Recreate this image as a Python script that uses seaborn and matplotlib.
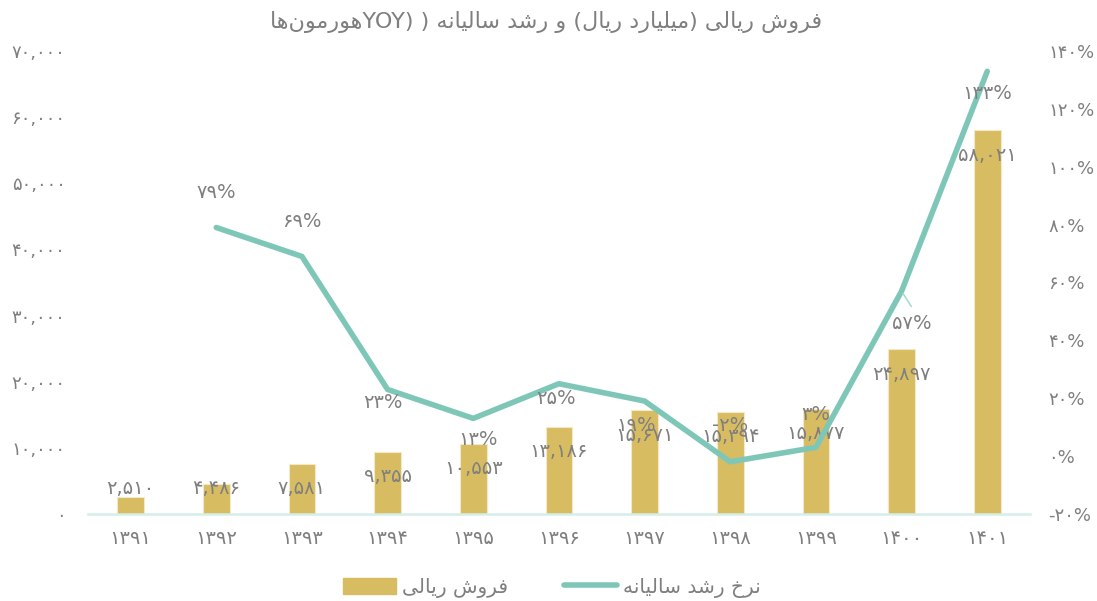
import re
import numpy as np
import pandas as pd
import seaborn as sns
import matplotlib.pyplot as plt

# chart data
years = ["1391", "1392", "1393", "1394", "1395", "1396", "1397", "1398", "1399", "1400", "1401"]
sales = [2510, 4486, 7581, 9355, 10553, 13186, 15671, 15394, 15877, 24897, 58021]
growth = [np.nan, 79, 69, 23, 13, 25, 19, -2, 3, 57, 133]

title_text = "فروش ریالی (میلیارد ریال) و رشد سالیانه ( (YOYهورمون\u200cها"
sales_name = "فروش ریالی"
growth_name = "نرخ رشد سالیانه"

# matplotlib has no arabic shaping / bidi, so do it by hand
FORMS = {
    "\u0627": ("\ufe8d", "\ufe8e", None, None),
    "\u062e": ("\ufea5", "\ufea6", "\ufea7", "\ufea8"),
    "\u062f": ("\ufea9", "\ufeaa", None, None),
    "\u0631": ("\ufead", "\ufeae", None, None),
    "\u0633": ("\ufeb1", "\ufeb2", "\ufeb3", "\ufeb4"),
    "\u0634": ("\ufeb5", "\ufeb6", "\ufeb7", "\ufeb8"),
    "\u0641": ("\ufed1", "\ufed2", "\ufed3", "\ufed4"),
    "\u0644": ("\ufedd", "\ufede", "\ufedf", "\ufee0"),
    "\u0645": ("\ufee1", "\ufee2", "\ufee3", "\ufee4"),
    "\u0646": ("\ufee5", "\ufee6", "\ufee7", "\ufee8"),
    "\u0647": ("\ufee9", "\ufeea", "\ufeeb", "\ufeec"),
    "\u0648": ("\ufeed", "\ufeee", None, None),
    "\u06cc": ("\ufbfc", "\ufbfd", "\ufbfe", "\ufbff"),
}


def shape(s):
    s = s.replace("\u064a", "\u06cc")
    out = []
    for i, ch in enumerate(s):
        f = FORMS.get(ch)
        if f is None:
            out.append(ch)
            continue
        prev = s[i - 1] if i > 0 else ""
        nxt = s[i + 1] if i < len(s) - 1 else ""
        jp = prev in FORMS and FORMS[prev][2] is not None
        jn = f[2] is not None and nxt in FORMS
        if jp and jn:
            out.append(f[3])
        elif jp:
            out.append(f[1])
        elif jn:
            out.append(f[2])
        else:
            out.append(f[0])
    return "".join(c for c in out if c != "\u200c")


MIRROR = str.maketrans("()", ")(")


def rtl(s):
    runs = re.findall(r"[A-Za-z0-9]+|[^A-Za-z0-9]+", shape(s))
    return "".join(r if re.match(r"[A-Za-z0-9]", r) else r[::-1].translate(MIRROR)
                   for r in reversed(runs))


FA = str.maketrans("0123456789", "۰۱۲۳۴۵۶۷۸۹")


def fa(x):
    return str(x).translate(FA)


df = pd.DataFrame({"year": [fa(y) for y in years], "sales": sales, "growth": growth})
df["pos"] = np.arange(len(df))

GOLD = "#D8BC62"
TEAL = "#7EC7B8"
GRAY = "#7F7F7F"

sns.set_style("white")
plt.rcParams["font.family"] = ["DejaVu Sans"]

fig = plt.figure(figsize=(10.97, 6.01), dpi=100)
ax = fig.add_axes([0.080, 0.145, 0.859, 0.770])

sns.barplot(data=df, x="year", y="sales", color=GOLD, width=0.31, saturation=1,
            edgecolor="#F3E9C8", linewidth=0.8, ax=ax)
ax.set_xlim(-0.5, len(df) - 0.5)
ax.set_ylim(0, 70000)
ax.set_yticks(range(0, 70001, 10000))
ax.set_yticklabels([fa(f"{v:,}") for v in range(0, 70001, 10000)])
ax.set_xlabel("")
ax.set_ylabel("")
ax.tick_params(axis="y", length=0, pad=16, labelsize=13, labelcolor=GRAY)
ax.tick_params(axis="x", length=0, pad=11, labelsize=14, labelcolor=GRAY)
for side in ["top", "left", "right"]:
    ax.spines[side].set_visible(False)
ax.spines["bottom"].set_color("#D6EEE9")
ax.spines["bottom"].set_linewidth(1.8)

ax2 = ax.twinx()
sns.lineplot(data=df, x="pos", y="growth", color=TEAL, linewidth=4, ax=ax2,
             label=growth_name, legend=False)
ax2.lines[0].set_solid_capstyle("round")
ax2.lines[0].set_solid_joinstyle("round")
ax2.set_ylim(-20, 140)
ax2.set_yticks(range(-20, 141, 20))
ax2.set_yticklabels([fa(f"{v}%") for v in range(-20, 141, 20)])
ax2.set_ylabel("")
ax2.set_xlabel("")
ax2.tick_params(axis="y", length=0, pad=13, labelsize=13, labelcolor=GRAY)
for side in ax2.spines:
    ax2.spines[side].set_visible(False)

# bar value labels (inside end, kept off the baseline)
for i, v in enumerate(sales):
    y = max(v - 3760, 3760)
    ax.text(i, y, fa(f"{v:,}"), ha="center", va="center", fontsize=14, color=GRAY)

# growth labels, offsets in pixels from each point
label_off = [(0, 0), (0, 35), (0, 35), (-5, -13), (5, -21), (-3, -15),
             (-8, -24), (0, 36), (0, 33), (10, -32), (0, -22)]
for i, g in enumerate(growth):
    if np.isnan(g):
        continue
    dx, dy = label_off[i]
    ax2.annotate(fa(f"{int(g)}%"), (i, g), xytext=(dx * 0.72, dy * 0.72),
                 textcoords="offset points", ha="center", va="center",
                 fontsize=14, color=GRAY)
ax2.annotate("", (9, 57), xytext=(7, -11), textcoords="offset points",
             arrowprops=dict(arrowstyle="-", color="#A9DCD1", lw=1.2,
                             shrinkA=0, shrinkB=2))

fig.text(0.498, 0.963, rtl(title_text), ha="center", va="center",
         fontsize=16, color=GRAY)

handles = [plt.Rectangle((0, 0), 1, 1, color=GOLD),
           plt.Line2D([], [], color=TEAL, linewidth=4, solid_capstyle="round")]
fig.legend(handles, [rtl(sales_name), rtl(growth_name)], loc="center",
           bbox_to_anchor=(0.503, 0.022), ncol=2, frameon=False, fontsize=14.5,
           labelcolor=GRAY, handlelength=2.6, handleheight=0.9, columnspacing=2.8,
           handletextpad=0.3)

fig.savefig("out.png", dpi=100)
